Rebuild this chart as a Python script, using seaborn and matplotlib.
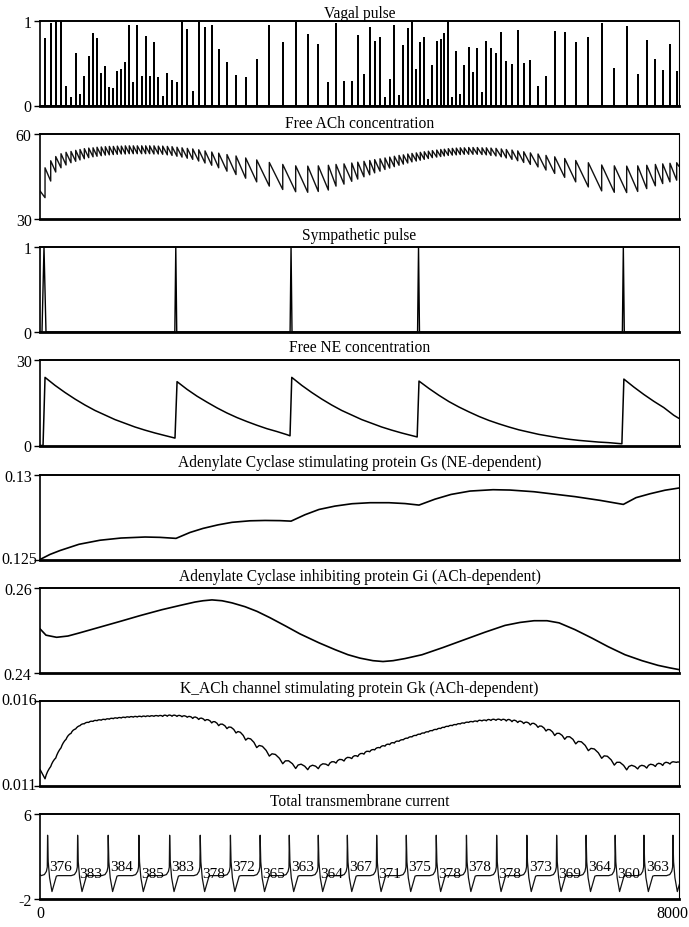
import numpy as np
import pandas as pd
import matplotlib
matplotlib.use("Agg")
import matplotlib.pyplot as plt
import matplotlib.transforms as mtransforms
import seaborn as sns

sns.set_theme(style="white")
plt.rcParams['font.family'] = ['Liberation Serif', 'DejaVu Serif']

T_END = 8000

# ---------------- data ----------------
titles = ["Vagal pulse", "Free ACh concentration", "Sympathetic pulse",
          "Free NE concentration",
          "Adenylate Cyclase stimulating protein Gs (NE-dependent)",
          "Adenylate Cyclase inhibiting protein Gi (ACh-dependent)",
          "K_ACh channel stimulating protein Gk (ACh-dependent)",
          "Total transmembrane current"]
y_limits = [(0, 1), (30, 60), (0, 1), (0, 30), (0.125, 0.13), (0.24, 0.26),
            (0.011, 0.016), (-2, 6)]
y_ticklabels = [("0", "1"), ("30", "60"), ("0", "1"), ("0", "30"),
                ("0.125", "0.13"), ("0.24", "0.26"), ("0.011", "0.016"),
                ("-2", "6")]
x_ticklabels = ["0", "8000"]

vagal_t = [63, 134, 197, 263, 326, 388, 447, 501, 555, 610,
           664, 714, 767, 818, 868, 918, 968, 1018, 1068, 1118,
           1168, 1218, 1273, 1323, 1373, 1427, 1481, 1536, 1594, 1653,
           1715, 1778, 1844, 1912, 1987, 2066, 2150, 2237, 2341, 2454,
           2575, 2713, 2871, 3039, 3201, 3352, 3484, 3610, 3706, 3806,
           3903, 3978, 4056, 4128, 4190, 4257, 4319, 4378, 4436, 4495,
           4549, 4604, 4657, 4711, 4761, 4811, 4862, 4912, 4967, 5017,
           5062, 5112, 5162, 5212, 5262, 5312, 5367, 5421, 5475, 5534,
           5588, 5646, 5709, 5775, 5838, 5909, 5981, 6056, 6139, 6235,
           6335, 6444, 6569, 6707, 6865, 7032, 7190, 7345, 7483, 7596,
           7704, 7796, 7887, 7971]
vagal_amp = [0.78, 0.96, 1.0, 1.0, 0.22, 0.09, 0.61, 0.12, 0.34, 0.57,
             0.84, 0.78, 0.37, 0.45, 0.21, 0.19, 0.40, 0.42, 0.50, 0.93,
             0.27, 0.93, 0.33, 0.81, 0.34, 0.73, 0.32, 0.10, 0.37, 0.29,
             0.26, 1.0, 0.89, 0.16, 0.97, 0.91, 0.93, 0.65, 0.50, 0.35,
             0.32, 0.53, 0.93, 0.73, 0.97, 0.83, 0.71, 0.27, 0.96, 0.28,
             0.28, 0.82, 0.36, 0.91, 0.75, 0.79, 0.09, 0.30, 0.94, 0.11,
             0.70, 0.90, 1.0, 0.42, 0.73, 0.80, 0.07, 0.47, 0.75, 0.77,
             0.84, 0.98, 0.09, 0.63, 0.12, 0.46, 0.68, 0.38, 0.67, 0.15,
             0.75, 0.66, 0.61, 0.85, 0.51, 0.48, 0.88, 0.49, 0.52, 0.22,
             0.34, 0.86, 0.85, 0.74, 0.80, 0.96, 0.43, 0.92, 0.36, 0.76,
             0.53, 0.41, 0.71, 0.40]

ach_start, ach_end = 39.8, 48.5
ach_trough = [37.4, 43.3, 46.5, 48.0, 49.0, 49.8, 50.3, 50.8, 51.2, 51.6,
              51.9, 52.1, 52.3, 52.5, 52.6, 52.7, 52.8, 52.9, 52.9, 53.0,
              53.0, 53.0, 53.0, 53.0, 53.0, 52.9, 52.9, 52.8, 52.6, 52.4,
              52.1, 51.8, 51.4, 51.0, 50.4, 49.7, 48.9, 48.0, 46.8, 45.6,
              44.3, 43.0, 41.5, 40.3, 39.5, 39.3, 39.6, 40.1, 41.5, 42.2,
              43.2, 44.0, 44.8, 45.5, 46.2, 46.8, 47.4, 47.9, 48.4, 48.9,
              49.3, 49.7, 50.1, 50.4, 50.7, 51.0, 51.3, 51.6, 51.8, 52.0,
              52.2, 52.4, 52.5, 52.6, 52.7, 52.8, 52.8, 52.8, 52.8, 52.7,
              52.6, 52.4, 52.2, 51.9, 51.5, 51.0, 50.5, 49.9, 49.2, 48.3,
              47.2, 46.0, 44.6, 43.0, 41.2, 39.8, 39.3, 39.2, 39.6, 40.6,
              41.6, 42.4, 43.0, 43.6]
ach_peak = [48.0, 50.5, 52.0, 53.0, 53.5, 53.8, 54.2, 54.5, 54.8, 55.0,
            55.1, 55.3, 55.4, 55.5, 55.6, 55.6, 55.7, 55.7, 55.8, 55.8,
            55.8, 55.8, 55.8, 55.8, 55.8, 55.8, 55.7, 55.7, 55.6, 55.5,
            55.3, 55.1, 54.9, 54.7, 54.4, 54.0, 53.6, 53.2, 52.7, 52.2,
            51.5, 50.8, 49.9, 49.2, 48.7, 48.6, 48.7, 48.9, 49.2, 49.4,
            49.7, 50.0, 50.3, 50.6, 50.9, 51.2, 51.5, 51.8, 52.1, 52.4,
            52.6, 52.9, 53.1, 53.3, 53.5, 53.7, 53.9, 54.1, 54.3, 54.5,
            54.6, 54.8, 54.9, 55.0, 55.1, 55.1, 55.2, 55.2, 55.2, 55.1,
            55.1, 55.0, 54.9, 54.7, 54.5, 54.3, 54.0, 53.7, 53.3, 52.9,
            52.4, 51.9, 51.3, 50.6, 49.8, 49.0, 48.7, 48.6, 48.7, 48.9,
            49.2, 49.4, 49.6, 49.8]

symp_t = [50, 1700, 3143, 4739, 7303]
symp_dur = [50, 24, 24, 24, 24]

ne_t = [0, 38, 63, 188, 313, 438, 563, 688, 813, 938, 1063, 1188, 1313,
        1438, 1563, 1690,
        1716, 1841, 1966, 2091, 2216, 2341, 2466, 2591, 2716, 2841, 2966,
        3091, 3130,
        3152, 3277, 3402, 3527, 3652, 3777, 3902, 4027, 4152, 4277, 4402,
        4527, 4652, 4722,
        4745, 4870, 4995, 5120, 5245, 5370, 5495, 5620, 5745, 5870, 5995,
        6120, 6245, 6370, 6495, 6620, 6745, 6870, 6995, 7120, 7285,
        7310, 7435, 7560, 7685, 7810, 7935, 8000]
ne_v = [0.0, 0.0, 23.9, 21.1, 18.6, 16.3, 14.2, 12.3, 10.7, 9.1, 7.8, 6.5, 5.4,
        4.4, 3.5, 2.6,
        22.4, 19.7, 17.3, 15.2, 13.2, 11.4, 9.8, 8.4, 7.1, 5.9, 4.9,
        3.8, 3.4,
        23.9, 21.1, 18.6, 16.3, 14.2, 12.3, 10.7, 9.1, 7.8, 6.5, 5.4,
        4.4, 3.5, 3.0,
        22.6, 20.0, 17.6, 15.4, 13.5, 11.8, 10.2, 8.8, 7.6, 6.5, 5.5,
        4.7, 3.9, 3.3, 2.7, 2.2, 1.8, 1.5, 1.2, 1.0, 0.6,
        23.3, 20.5, 17.9, 15.5, 13.3, 10.6, 9.5]

gs_t = [0, 125, 250, 488, 751, 1014, 1315, 1502, 1703,
        1878, 2041, 2229, 2404, 2629, 2817, 3005, 3143,
        3318, 3493, 3693, 3906, 4131, 4369, 4570, 4745,
        4945, 5146, 5384, 5672, 5884, 6185, 6698, 7011, 7303,
        7462, 7637, 7825, 8000]
gs_v = [0.12500, 0.12530, 0.12553, 0.12590, 0.12614, 0.12627, 0.12633, 0.12631, 0.12625,
        0.12660, 0.12684, 0.12705, 0.12720, 0.12729, 0.12731, 0.12730, 0.12727,
        0.12765, 0.12796, 0.12816, 0.12830, 0.12836, 0.12836, 0.12831, 0.12822,
        0.12857, 0.12885, 0.12905, 0.12913, 0.12911, 0.12901, 0.12872, 0.12850, 0.12826,
        0.12866, 0.12889, 0.12910, 0.12923]

gi_t = [0, 75, 208, 350, 488, 751, 1014, 1252, 1527, 1753, 1941, 2041, 2153,
        2279, 2404, 2567, 2717, 2880, 3080, 3255, 3493, 3693, 3856, 4006,
        4169, 4294, 4420, 4570, 4783, 5046, 5308, 5571, 5822, 6010, 6185,
        6348, 6498, 6698, 6911, 7112, 7324, 7537, 7737, 7887, 8000]
gi_v = [0.2504, 0.2489, 0.2484, 0.2487, 0.2494, 0.2508, 0.2522, 0.2535,
        0.2549, 0.2559, 0.2567, 0.2570, 0.2572, 0.2570, 0.2565, 0.2556,
        0.2545, 0.2530, 0.2510, 0.2492, 0.2471, 0.2455, 0.2443, 0.2435,
        0.2429, 0.2427, 0.2429, 0.2434, 0.2443, 0.2460, 0.2478, 0.2496,
        0.2512, 0.2519, 0.2523, 0.2523, 0.2518, 0.2502, 0.2482, 0.2462,
        0.2443, 0.2429, 0.2418, 0.2412, 0.2408]

# Gk level at each vagal pulse (x 1e-5) and scallop depth after each pulse
gk_start, gk_end = 1195, 1238
gk_level = [1145, 1215, 1265, 1325, 1375, 1410, 1435, 1454, 1465, 1473,
            1479, 1483, 1486, 1489, 1492, 1495, 1497, 1499, 1501, 1503,
            1504, 1505, 1506, 1507, 1508, 1509, 1510, 1510, 1511, 1511,
            1510, 1508, 1505, 1500, 1494, 1487, 1475, 1460, 1444, 1420,
            1380, 1338, 1288, 1243, 1215, 1205, 1210, 1225, 1240, 1252,
            1264, 1276, 1290, 1302, 1313, 1325, 1335, 1344, 1353, 1362,
            1371, 1380, 1388, 1396, 1403, 1410, 1417, 1424, 1431, 1437,
            1443, 1449, 1454, 1459, 1464, 1468, 1473, 1476, 1479, 1482,
            1484, 1486, 1487, 1487, 1485, 1481, 1476, 1470, 1464, 1450,
            1430, 1405, 1385, 1360, 1320, 1275, 1235, 1205, 1207, 1212,
            1220, 1226, 1232, 1237]
gk_ripple = [11, 7, 7, 7, 7, 7, 4, 4, 4, 4,
             4, 4, 4, 4, 4, 4, 4, 4, 4, 4,
             4, 4, 4, 4, 4, 4, 4, 7, 7, 7,
             7, 7, 7, 11, 11, 11, 14, 16, 19, 22,
             26, 30, 30, 30, 30, 24, 22, 16, 16, 16,
             11, 11, 11, 7, 7, 7, 7, 7, 7, 4,
             4, 4, 4, 4, 4, 4, 4, 4, 4, 4,
             4, 4, 4, 4, 4, 4, 4, 4, 7, 4,
             7, 7, 7, 7, 11, 11, 11, 11, 16, 16,
             19, 22, 26, 30, 30, 30, 30, 26, 19, 19,
             16, 16, 11, 2]

first_beat = 95
beat_intervals = [376, 383, 384, 385, 383, 378, 372, 365, 363, 364, 367,
                  371, 375, 378, 378, 378, 373, 369, 364, 360, 363]
ap_offset = [-80, -40, -15, -4, 0, 8, 25, 55, 85, 110, 130]
ap_value = [0.2, 0.3, 0.6, 1.0, 4.0, 1.5, 0.0, -1.3, -0.5, 0.15, 0.2]
current_start = 0.3

# ---------------- build series ----------------
def vagal_frame():
    xs, ys = [0], [0]
    for t, a in zip(vagal_t, vagal_amp):
        xs += [t, t, t]
        ys += [0, a, 0]
    xs.append(T_END); ys.append(0)
    return pd.DataFrame({"t": xs, "v": ys})

def ach_frame():
    xs, ys = [0], [ach_start]
    for t, lo, hi in zip(vagal_t, ach_trough, ach_peak):
        xs += [t, t]
        ys += [lo, hi]
    xs.append(T_END); ys.append(ach_end)
    return pd.DataFrame({"t": xs, "v": ys})

def symp_frame():
    xs, ys = [0], [0]
    for t, d in zip(symp_t, symp_dur):
        xs += [t - d / 2, t, t + d / 2]
        ys += [0, 1, 0]
    xs.append(T_END); ys.append(0)
    return pd.DataFrame({"t": xs, "v": ys})

def gk_frame():
    xs, ys = [0], [gk_start]
    n = len(vagal_t)
    fr = [0.0, 0.2, 0.45, 0.75]
    sh = [0.0, 0.75, 1.0, 0.7]
    for i in range(n):
        t0, L0, r = vagal_t[i], gk_level[i], gk_ripple[i]
        t1 = vagal_t[i + 1] if i < n - 1 else T_END
        L1 = gk_level[i + 1] if i < n - 1 else gk_end
        for f, s in zip(fr, sh):
            xs.append(t0 + f * (t1 - t0))
            ys.append(L0 + f * (L1 - L0) - r / 2 + r * s)
    xs.append(T_END); ys.append(gk_end)
    return pd.DataFrame({"t": xs, "v": np.array(ys) * 1e-5})

beat_times = np.concatenate([[first_beat], first_beat + np.cumsum(beat_intervals)])

def current_frame():
    xs, ys = [0], [current_start]
    for b in beat_times:
        for o, v in zip(ap_offset, ap_value):
            xs.append(b + o); ys.append(v)
    return pd.DataFrame({"t": xs, "v": ys})

frames = [vagal_frame(), ach_frame(), symp_frame(),
          pd.DataFrame({"t": ne_t, "v": ne_v}),
          pd.DataFrame({"t": gs_t, "v": gs_v}),
          pd.DataFrame({"t": gi_t, "v": gi_v}),
          gk_frame(), current_frame()]
line_w = [1.3, 1.0, 1.0, 1.1, 1.2, 1.2, 1.0, 0.9]
line_c = ["black", "#111111", "black", "black", "black", "black", "black", "#111111"]

# ---------------- layout ----------------
W, H = 689, 928
fig = plt.figure(figsize=(W / 100, H / 100), dpi=100)
panels_px = [(21.5, 106.5), (135, 219.5), (248, 333), (361, 446.5),
             (476, 560.5), (589, 674), (701.5, 786.5), (815, 900)]
title_gap_px = [3, 7, 8, 9, 9, 8, 8, 9]
x0, x1 = 40, 679
TICK_FS = 11.5

axes = []
for k, (yt, yb) in enumerate(panels_px):
    ax = fig.add_axes([x0 / W, 1 - yb / H, (x1 - x0) / W, (yb - yt) / H])
    axes.append(ax)
    sns.lineplot(data=frames[k], x="t", y="v", sort=False, estimator=None,
                 color=line_c[k], lw=line_w[k], ax=ax, legend=False)
    ax.set_xlim(0, T_END)
    lo, hi = y_limits[k]
    ax.set_ylim(lo, hi)
    labs = list(y_ticklabels[k])
    shown = [s if len(s) <= 4 else "" for s in labs]
    ax.set_yticks([lo, hi], labels=shown)
    # long labels: start at the left edge of the figure, as in the original
    blend = mtransforms.blended_transform_factory(fig.transFigure, ax.transData)
    for val, s in zip((lo, hi), labs):
        if len(s) > 4:
            ax.text(1.0 / W, val, s, transform=blend, ha="left", va="center",
                    fontsize=TICK_FS, color="black")
    ax.tick_params(axis="y", which="both", left=True, direction="out",
                   length=4, width=1, color="black", pad=2, labelsize=TICK_FS,
                   labelcolor="black")
    ax.set_xlabel(""); ax.set_ylabel("")
    if k < len(panels_px) - 1:
        ax.set_xticks([])
    else:
        # "0" as a tick label; the end label is kept inside the figure edge
        ax.set_xticks([0, T_END], labels=[x_ticklabels[0], ""])
        ax.tick_params(axis="x", length=0, pad=4, labelsize=TICK_FS,
                       labelcolor="black")
        xb = mtransforms.blended_transform_factory(fig.transFigure, ax.transAxes)
        ax.text(688.0 / W, 0.0, x_ticklabels[1], transform=mtransforms.offset_copy(
                    xb, fig=fig, y=-6, units="dots"),
                ha="right", va="top", fontsize=TICK_FS, color="black")
    for side, lw in (("left", 1.2), ("bottom", 2.0), ("top", 1.4), ("right", 0.8)):
        ax.spines[side].set_visible(True)
        ax.spines[side].set_color("black")
        ax.spines[side].set_linewidth(lw)
    ax.set_facecolor("white")
    trans = mtransforms.offset_copy(ax.transAxes, fig=fig, y=title_gap_px[k],
                                    units="dots")
    ax.text(0.5, 1.0, titles[k], transform=trans, ha="center", va="baseline",
            fontsize=11.2, color="black")

# interval labels in the current panel
axc = axes[-1]
label_base = [0.75, 0.05]
for i, iv in enumerate(beat_intervals):
    axc.text(beat_times[i] + 25, label_base[i % 2], str(iv), ha="left",
             va="baseline", fontsize=11, color="black")

fig.savefig("out.png", dpi=100)
